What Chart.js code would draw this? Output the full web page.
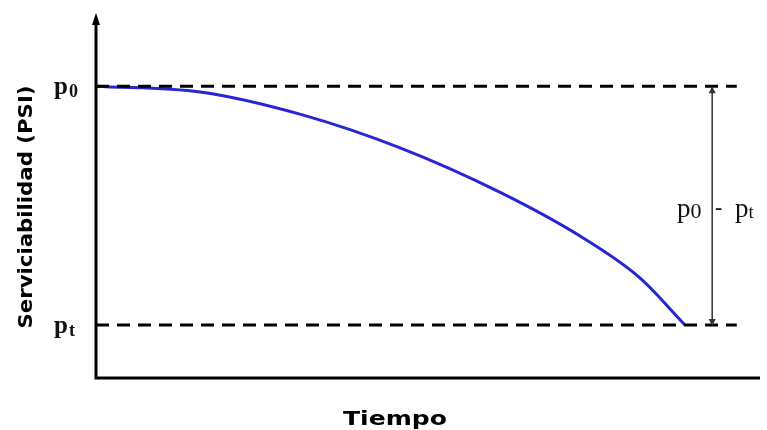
<!DOCTYPE html>
<html>
<head>
<meta charset="utf-8">
<script src="https://cdn.jsdelivr.net/npm/chart.js@4.4.1/dist/chart.umd.min.js"></script>
<style>
  html, body { margin: 0; padding: 0; background: #fff; }
  #wrap { width: 767px; height: 430px; position: relative; }
</style>
</head>
<body>
<div id="wrap"><canvas id="chart"></canvas></div>
<script>
// curva de serviciabilidad (escala 0-100 en ambos ejes)
const tiempo = [0, 15.7, 30.7, 45.8, 60.8, 72.9, 81.9, 88.7];
const psi = [80.4, 78.8, 72.7, 63.4, 51.2, 39.1, 27.6, 14.6];

const p0 = 80.4;
const pt = 14.6;
const nivelesY = [p0, pt];
const subindices = ["0", "t"];
const finLineas = 96.5;   // donde terminan las lineas punteadas
const xCota = 92.8;       // linea vertical p0 - pt

const azul = "rgb(38, 38, 212)";

const dibujos = {
  id: "dibujos",
  afterDraw(chart) {
    const ctx = chart.ctx;
    const a = chart.chartArea;
    const xs = chart.scales.x;
    const ys = chart.scales.y;
    ctx.save();

    // ejes
    ctx.strokeStyle = "#000";
    ctx.lineWidth = 3;
    ctx.beginPath();
    ctx.moveTo(a.left, a.top + 6);
    ctx.lineTo(a.left, a.bottom);
    ctx.lineTo(a.right, a.bottom);
    ctx.stroke();
    // flecha del eje y
    ctx.fillStyle = "#000";
    ctx.beginPath();
    ctx.moveTo(a.left, a.top - 2);
    ctx.lineTo(a.left - 4, a.top + 10);
    ctx.lineTo(a.left + 4, a.top + 10);
    ctx.closePath();
    ctx.fill();

    // flechas de la cota
    const xc = xs.getPixelForValue(xCota);
    const yTop = ys.getPixelForValue(p0);
    const yBot = ys.getPixelForValue(pt);
    ctx.fillStyle = "#333";
    ctx.beginPath();
    ctx.moveTo(xc, yTop);
    ctx.lineTo(xc - 3.5, yTop + 7);
    ctx.lineTo(xc + 3.5, yTop + 7);
    ctx.closePath();
    ctx.moveTo(xc, yBot + 1);
    ctx.lineTo(xc - 3.5, yBot - 6);
    ctx.lineTo(xc + 3.5, yBot - 6);
    ctx.closePath();
    ctx.fill();

    // etiquetas p0 y pt
    ctx.fillStyle = "#111";
    ctx.textBaseline = "alphabetic";
    ctx.textAlign = "left";
    nivelesY.forEach((v, i) => {
      const y = ys.getPixelForValue(v);
      ctx.font = "bold 25px 'Liberation Serif', serif";
      ctx.fillText("p", 54, y + 8);
      const w = ctx.measureText("p").width;
      ctx.font = "bold 18px 'Liberation Serif', serif";
      ctx.fillText(subindices[i], 54 + w + 1, y + 11);
    });

    // etiqueta p0 - pt
    const ym = (yTop + yBot) / 2 + 11;
    let x = 677;
    ctx.font = "27px 'Liberation Serif', serif";
    ctx.fillText("p", x, ym);
    x += ctx.measureText("p").width;
    ctx.font = "22px 'Liberation Serif', serif";
    ctx.fillText("0", x, ym + 1);
    ctx.font = "bold 22px 'Liberation Serif', serif";
    ctx.fillText("-", 715, ym - 3);
    x = 735;
    ctx.font = "27px 'Liberation Serif', serif";
    ctx.fillText("p", x, ym);
    x += ctx.measureText("p").width;
    ctx.font = "19px 'Liberation Serif', serif";
    ctx.fillText("t", x, ym + 1);

    // titulos
    ctx.fillStyle = "#000";
    ctx.font = "bold 20px 'DejaVu Sans', sans-serif";
    ctx.textAlign = "center";
    let t = "Tiempo";
    let tw = ctx.measureText(t).width;
    ctx.save();
    ctx.translate(395, 425);
    ctx.scale(104 / tw, 1);
    ctx.fillText(t, 0, 0);
    ctx.restore();

    t = "Serviciabilidad (PSI)";
    tw = ctx.measureText(t).width;
    ctx.save();
    ctx.translate(32, 207);
    ctx.rotate(-Math.PI / 2);
    ctx.scale(243 / tw, 1);
    ctx.fillText(t, 0, 0);
    ctx.restore();

    ctx.restore();
  }
};

new Chart(document.getElementById("chart"), {
  type: "line",
  data: {
    datasets: [
      {
        data: [{ x: 0, y: p0 }, { x: finLineas, y: p0 }],
        borderColor: "#000",
        borderWidth: 3,
        borderDash: [13, 8],
        pointRadius: 0
      },
      {
        data: [{ x: 0, y: pt }, { x: finLineas, y: pt }],
        borderColor: "#000",
        borderWidth: 3,
        borderDash: [13, 8],
        pointRadius: 0
      },
      {
        data: [{ x: xCota, y: p0 }, { x: xCota, y: pt }],
        borderColor: "#333",
        borderWidth: 1.5,
        pointRadius: 0
      },
      {
        data: tiempo.map((t, i) => ({ x: t, y: psi[i] })),
        borderColor: azul,
        borderWidth: 3,
        pointRadius: 0,
        cubicInterpolationMode: "monotone"
      }
    ]
  },
  options: {
    responsive: true,
    maintainAspectRatio: false,
    animation: false,
    layout: { padding: { left: 96, right: 7, top: 15, bottom: 52 } },
    scales: {
      x: { type: "linear", min: 0, max: 100, display: false },
      y: { type: "linear", min: 0, max: 100, display: false }
    },
    plugins: {
      legend: { display: false },
      tooltip: { enabled: false }
    }
  },
  plugins: [dibujos]
});
</script>
</body>
</html>
